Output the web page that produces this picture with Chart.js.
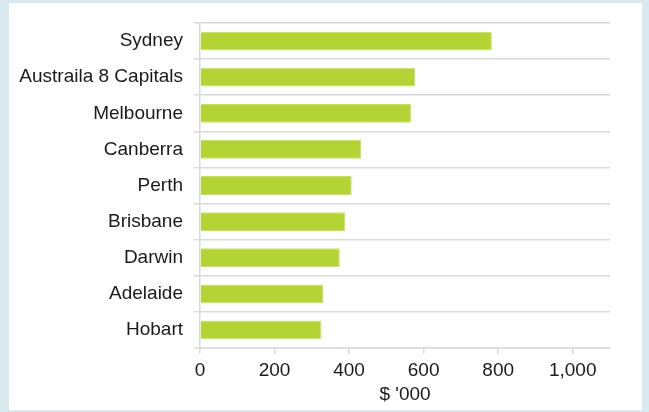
<!DOCTYPE html>
<html lang="en">
<head>
    <meta charset="UTF-8">
    <title>Median house price by capital city</title>
    <script src="https://cdn.jsdelivr.net/npm/chart.js@4.4.1/dist/chart.umd.min.js"></script>
    <style>
        body {
            margin: 0;
            padding: 0;
            background-color: #d9e9f0;
            font-family: 'Liberation Sans', Arial, sans-serif;
        }
        .panel {
            position: absolute;
            left: 9px;
            top: 3px;
            width: 633px;
            height: 407px;
            background: #fff;
        }
    </style>
</head>
<body>
    <div class="panel">
        <canvas id="priceChart" width="633" height="407"></canvas>
    </div>

    <script>
        // values in $ '000
        const cities = ['Sydney', 'Austraila 8 Capitals', 'Melbourne', 'Canberra', 'Perth', 'Brisbane', 'Darwin', 'Adelaide', 'Hobart'];
        const prices = [783, 577, 566, 432, 407, 390, 375, 330, 326];
        const xMax = 1100;
        const xStep = 200;
        const xTitle = "$ '000";

        const ctx = document.getElementById('priceChart').getContext('2d');
        const fontFamily = "'Liberation Sans', Arial, sans-serif";

        new Chart(ctx, {
            type: 'bar',
            data: {
                labels: cities,
                datasets: [{
                    data: prices,
                    backgroundColor: '#b4d334',
                    borderColor: '#c8e070',
                    borderWidth: 1,
                    barPercentage: 0.52,
                    categoryPercentage: 1
                }]
            },
            options: {
                indexAxis: 'y',
                responsive: false,
                animation: false,
                layout: {
                    padding: { top: 20, right: 32, bottom: 0, left: 0 }
                },
                plugins: {
                    legend: { display: false },
                    tooltip: { enabled: false }
                },
                scales: {
                    x: {
                        min: 0,
                        max: xMax,
                        ticks: {
                            stepSize: xStep,
                            includeBounds: false, // no tick at 1,100
                            autoSkip: false,
                            color: '#1a1a1a',
                            font: { family: fontFamily, size: 19 },
                            padding: 5,
                            maxRotation: 0
                        },
                        grid: {
                            drawOnChartArea: false,
                            drawTicks: true,
                            tickLength: 6,
                            color: '#d9d9d9',
                            lineWidth: 1.5
                        },
                        border: { color: '#d9d9d9', width: 1.5 },
                        title: {
                            display: true,
                            text: xTitle,
                            color: '#1a1a1a',
                            font: { family: fontFamily, size: 19 },
                            padding: { top: 0, bottom: 4 }
                        },
                        afterFit: function (scale) {
                            scale.height = 62;
                        }
                    },
                    y: {
                        ticks: {
                            color: '#1a1a1a',
                            font: { family: fontFamily, size: 19 },
                            padding: 11
                        },
                        grid: {
                            offset: true,
                            drawTicks: true,
                            tickLength: 6,
                            color: '#d9d9d9',
                            lineWidth: 1.5
                        },
                        border: { color: '#d9d9d9', width: 1.5 },
                        afterFit: function (scale) {
                            scale.width = 191;
                            scale.paddingTop = 0;
                            scale.paddingBottom = 0;
                        }
                    }
                }
            }
        });
    </script>
</body>
</html>
